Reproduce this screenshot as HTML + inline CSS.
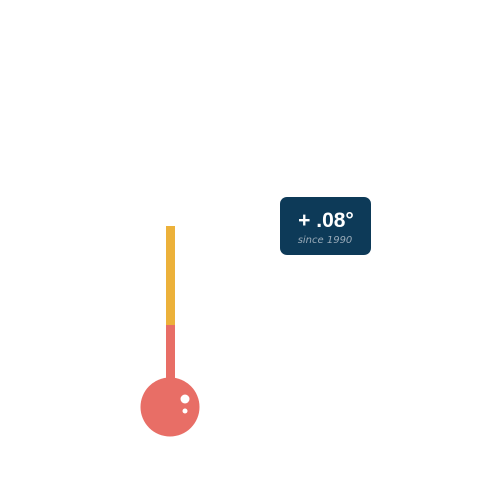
<!DOCTYPE html>
<html><head><meta charset="utf-8"><style>
html,body{margin:0;padding:0;background:#fff;width:500px;height:500px;overflow:hidden}
svg{display:block}
</style></head><body>
<svg id="chart" width="500" height="500">
<g id="marks"></g>
<g>
<rect x="280" y="197" width="91" height="58" rx="7" fill="#0d3a58"/>
<text id="valtext" x="326" y="227" text-anchor="middle" font-family="Liberation Sans, sans-serif" font-weight="bold" font-size="21" fill="#fff">+ .08°</text>
<text x="325" y="243" text-anchor="middle" font-family="DejaVu Sans, sans-serif" font-style="italic" font-size="10" fill="#9aabb9">since 1990</text>
</g>
</svg>
<script>
const baselineTemp = [0.0];
const changeValues = [0.08];
const svgNS = 'http://www.w3.org/2000/svg';
const y0 = 325, pxPerDeg = 99/0.08;
function yScale(v){ return y0 - v*pxPerDeg; }
const marksG = document.getElementById('marks');
function mk(tag, attrs){ const e=document.createElementNS(svgNS,tag); for(const k in attrs) e.setAttribute(k,attrs[k]); marksG.appendChild(e); return e; }
const baseStem = mk('rect',{x:166,y:yScale(baselineTemp[0]),width:9,height:380-yScale(baselineTemp[0]),fill:'#e86e66'});


const changeBar = mk('rect',{x:166,y:yScale(changeValues[0]),width:9,height:yScale(baselineTemp[0])-yScale(changeValues[0]),fill:'#ecb13a'});


const bulb = mk('circle',{cx:170,cy:407,r:29.5,fill:'#e86e66'});


const b1 = mk('circle',{cx:185,cy:399,r:4.5,fill:'#fff'});


const b2 = mk('circle',{cx:185,cy:411,r:2.5,fill:'#fff'});


</script>
</body></html>
